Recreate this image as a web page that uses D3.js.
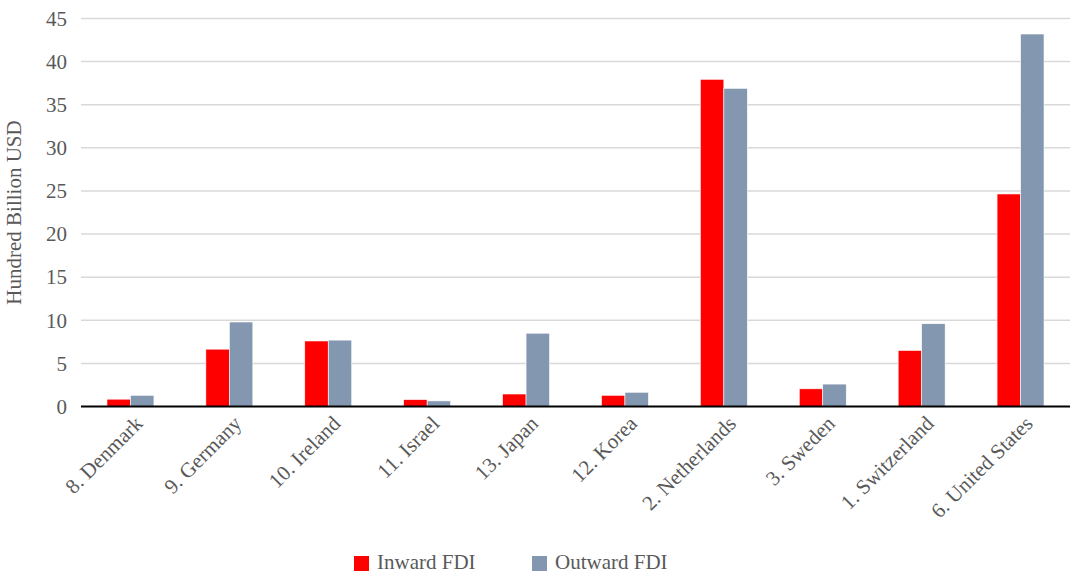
<!DOCTYPE html>
<html><head><meta charset="utf-8">
<script src="https://cdn.jsdelivr.net/npm/d3@7"></script>
<style>body{margin:0;background:#fff}svg{display:block}</style>
</head><body><svg id="c" width="1073" height="577"></svg>
<script>
const categories = ["8. Denmark","9. Germany","10. Ireland","11. Israel","13. Japan","12. Korea","2. Netherlands","3. Sweden","1. Switzerland","6. United States"];
const inwardFDI = [0.85,6.65,7.6,0.8,1.45,1.3,37.95,2.05,6.5,24.65];
const outwardFDI = [1.3,9.8,7.7,0.65,8.5,1.65,36.9,2.6,9.6,43.2];
const seriesNames = ["Inward FDI","Outward FDI"];
const colors = ["#ff0000","#8497b0"];
const yTicks = [0,5,10,15,20,25,30,35,40,45];

const FONT = '"Liberation Serif", "Times New Roman", "DejaVu Serif", serif';
const FS = "21px";
const svg = d3.select("#c").attr("font-family", FONT);
const m = {l:81, r:1070, t:18.5, b:406.5};
const x = d3.scaleBand().domain(categories).range([m.l, m.r]).paddingInner(0.525).paddingOuter(0.2625);
const xs = d3.scaleBand().domain(seriesNames).range([0, x.bandwidth()]);
const y = d3.scaleLinear().domain([0,45]).range([m.b, m.t]);

// gridlines
svg.append("g").selectAll("line").data(yTicks.filter(d=>d>0)).join("line")
  .attr("x1", m.l).attr("x2", m.r).attr("y1", d=>y(d)).attr("y2", d=>y(d))
  .attr("stroke", "#d9d9d9").attr("stroke-width", 1.5);

// y axis labels
const ya = svg.append("g").attr("transform", `translate(${m.l},0)`)
  .call(d3.axisLeft(y).tickValues(yTicks).tickSize(0).tickPadding(14));
ya.attr("font-family", FONT).attr("font-size", null);
ya.select(".domain").remove();
ya.selectAll("text").attr("font-size",FS).attr("fill","#595959");

// bars
const data = categories.map((c,i)=>({c, vals:[inwardFDI[i], outwardFDI[i]]}));
const g = svg.append("g").selectAll("g").data(data).join("g").attr("transform", d=>`translate(${x(d.c)},0)`);
g.selectAll("rect").data(d=>d.vals.map((v,j)=>({k:seriesNames[j], v, j}))).join("rect")
  .attr("x", d=>xs(d.k)).attr("width", xs.bandwidth())
  .attr("y", d=>y(d.v)).attr("height", d=>y(0)-y(d.v))
  .attr("fill", d=>colors[d.j]).attr("stroke","#fff").attr("stroke-width",0.6);

// baseline
svg.append("line").attr("x1", m.l).attr("x2", m.r).attr("y1", y(0)).attr("y2", y(0))
  .attr("stroke","#000").attr("stroke-width",2);

// x labels
svg.append("g").selectAll("text").data(categories).join("text")
  .attr("transform", d=>`translate(${x(d)+x.bandwidth()/2+10},${y(0)+15}) rotate(-45)`)
  .attr("text-anchor","end").attr("dominant-baseline","middle")
  .attr("font-size",FS).attr("fill","#595959").text(d=>d);

// y title
svg.append("text").attr("transform", `translate(21,${(m.t+m.b)/2}) rotate(-90)`)
  .attr("text-anchor","middle").attr("font-size",FS).attr("fill","#595959").text("Hundred Billion USD");

// legend
const legX = [354, 532];
const lg = svg.append("g").selectAll("g").data(seriesNames).join("g").attr("transform",(d,i)=>`translate(${legX[i]},556)`);
lg.append("rect").attr("width",15).attr("height",15).attr("fill",(d,i)=>colors[i]);
lg.append("text").attr("x",23).attr("y",8).attr("dominant-baseline","middle")
  .attr("font-size",FS).attr("fill","#595959").text(d=>d);
</script></body></html>
